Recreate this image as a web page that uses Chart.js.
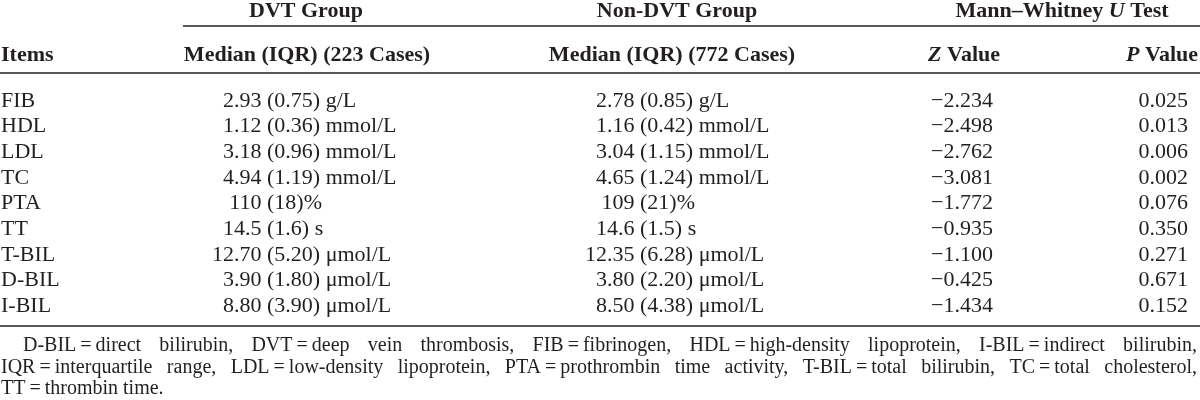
<!DOCTYPE html>
<html>
<head>
<meta charset="utf-8">
<script src="https://cdn.jsdelivr.net/npm/chart.js@4/dist/chart.umd.min.js"></script>
<style>
  html, body { margin: 0; padding: 0; background: #fff; }
</style>
</head>
<body>
<canvas id="tableChart" width="1200" height="400"></canvas>
<script>
// Row labels
var items = ['FIB', 'HDL', 'LDL', 'TC', 'PTA', 'TT', 'T-BIL', 'D-BIL', 'I-BIL'];
var units = ['g/L', 'mmol/L', 'mmol/L', 'mmol/L', '%', 's', '\u03bcmol/L', '\u03bcmol/L', '\u03bcmol/L'];
var decimals = [2, 2, 2, 2, 0, 1, 2, 2, 2];

// DVT group (223 cases)
var dvtMedian = [2.93, 1.12, 3.18, 4.94, 110, 14.5, 12.70, 3.90, 8.80];
var dvtIqr = [0.75, 0.36, 0.96, 1.19, 18, 1.6, 5.20, 1.80, 3.90];

// Non-DVT group (772 cases)
var nonDvtMedian = [2.78, 1.16, 3.04, 4.65, 109, 14.6, 12.35, 3.80, 8.50];
var nonDvtIqr = [0.85, 0.42, 1.15, 1.24, 21, 1.5, 6.28, 2.20, 4.38];

// Mann-Whitney U test
var zValues = [-2.234, -2.498, -2.762, -3.081, -1.772, -0.935, -1.100, -0.425, -1.434];
var pValues = [0.025, 0.013, 0.006, 0.002, 0.076, 0.350, 0.271, 0.671, 0.152];

var footnoteLines = [
    'D-BIL\u2009=\u2009direct bilirubin, DVT\u2009=\u2009deep vein thrombosis, FIB\u2009=\u2009fibrinogen, HDL\u2009=\u2009high-density lipoprotein, I-BIL\u2009=\u2009indirect bilirubin,',
    'IQR\u2009=\u2009interquartile range, LDL\u2009=\u2009low-density lipoprotein, PTA\u2009=\u2009prothrombin time activity, T-BIL\u2009=\u2009total bilirubin, TC\u2009=\u2009total cholesterol,',
    'TT\u2009=\u2009thrombin time.'
];

var FONT = '"Liberation Serif", "Times New Roman", serif';
var INK = '#231f20';

function fmt(v, d) {
    return v.toFixed(d).replace('-', '\u2212');
}

function cell(median, iqr, i) {
    var s = fmt(median[i], decimals[i]) + ' (' + fmt(iqr[i], decimals[i]) + ')';
    return units[i] === '%' ? s + '%' : s + ' ' + units[i];
}

// draws a list of text runs (some italic) as one string
function drawRuns(ctx, runs, x, y, align, size) {
    var fontOf = function (r) {
        return (r.italic ? 'italic ' : '') + (r.bold ? 'bold ' : '') + size + 'px ' + FONT;
    };
    var total = 0;
    runs.forEach(function (r) { ctx.font = fontOf(r); total += ctx.measureText(r.t).width; });
    var cx = align === 'center' ? x - total / 2 : (align === 'right' ? x - total : x);
    ctx.textAlign = 'left';
    runs.forEach(function (r) {
        ctx.font = fontOf(r);
        ctx.fillText(r.t, cx, y);
        cx += ctx.measureText(r.t).width;
    });
}

function hline(ctx, x1, x2, y, w) {
    ctx.beginPath();
    ctx.lineWidth = w;
    ctx.moveTo(x1, y);
    ctx.lineTo(x2, y);
    ctx.stroke();
}

function justify(ctx, text, left, right, y, stretch) {
    var words = text.split(' ');
    ctx.textAlign = 'left';
    if (!stretch) {
        ctx.fillText(text, left, y);
        return;
    }
    var widths = words.map(function (w) { return ctx.measureText(w).width; });
    var sum = widths.reduce(function (a, b) { return a + b; }, 0);
    var gap = (right - left - sum) / (words.length - 1);
    var cx = left;
    words.forEach(function (w, k) {
        ctx.fillText(w, cx, y);
        cx += widths[k] + gap;
    });
}

var tablePlugin = {
    id: 'tableText',
    afterDraw: function (chart) {
        var ctx = chart.ctx;
        var xs = chart.scales.x;
        var ys = chart.scales.y;
        var px = function (v) { return xs.getPixelForValue(v); };
        ctx.save();
        ctx.fillStyle = INK;
        ctx.strokeStyle = INK;
        ctx.textBaseline = 'middle';

        // rules
        hline(ctx, px(183), px(1200), 26, 1.6);
        hline(ctx, px(0), px(1200), 73, 1.6);
        hline(ctx, px(0), px(1200), 326, 1.6);

        // group headers
        drawRuns(ctx, [{ t: 'DVT Group', bold: true }], px(306), 11, 'center', 22);
        drawRuns(ctx, [{ t: 'Non-DVT Group', bold: true }], px(677), 11, 'center', 22);
        drawRuns(ctx, [{ t: 'Mann\u2013Whitney ', bold: true }, { t: 'U', bold: true, italic: true }, { t: ' Test', bold: true }],
            px(1062), 11, 'center', 22);

        // column headers
        drawRuns(ctx, [{ t: 'Items', bold: true }], px(1), 55, 'left', 22);
        drawRuns(ctx, [{ t: 'Median (IQR) (223 Cases)', bold: true }], px(307), 55, 'center', 22);
        drawRuns(ctx, [{ t: 'Median (IQR) (772 Cases)', bold: true }], px(672), 55, 'center', 22);
        drawRuns(ctx, [{ t: 'Z', bold: true, italic: true }, { t: ' Value', bold: true }], px(1000), 55, 'right', 22);
        drawRuns(ctx, [{ t: 'P', bold: true, italic: true }, { t: ' Value', bold: true }], px(1198), 55, 'right', 22);

        // body rows
        ctx.font = '22px ' + FONT;
        items.forEach(function (item, i) {
            var y = ys.getPixelForValue(i);
            ctx.textAlign = 'left';
            ctx.fillText(item, px(1), y);

            var a = cell(dvtMedian, dvtIqr, i);
            ctx.fillText(a, px(267) - ctx.measureText(a.split('(')[0]).width, y);
            var b = cell(nonDvtMedian, nonDvtIqr, i);
            ctx.fillText(b, px(640) - ctx.measureText(b.split('(')[0]).width, y);

            ctx.textAlign = 'right';
            ctx.fillText(fmt(zValues[i], 3), px(993), y);
            ctx.fillText(fmt(pValues[i], 3), px(1188), y);
        });

        // footnote
        ctx.font = '20px ' + FONT;
        justify(ctx, footnoteLines[0], px(23), px(1197), 346, true);
        justify(ctx, footnoteLines[1], px(1), px(1197), 368, true);
        justify(ctx, footnoteLines[2], px(1), px(1197), 389, false);
        ctx.restore();
    }
};

var ctx = document.getElementById('tableChart');

var tableChart = new Chart(ctx, {
    type: 'scatter',
    data: {
        labels: items,
        datasets: []
    },
    options: {
        responsive: false,
        animation: false,
        layout: { padding: { top: 101, bottom: 94, left: 0, right: 0 } },
        plugins: { legend: { display: false }, tooltip: { enabled: false } },
        scales: {
            x: { type: 'linear', min: 0, max: 1200, display: false },
            y: { type: 'category', labels: items, offset: false, display: false }
        }
    },
    plugins: [tablePlugin]
});
</script>
</body>
</html>
